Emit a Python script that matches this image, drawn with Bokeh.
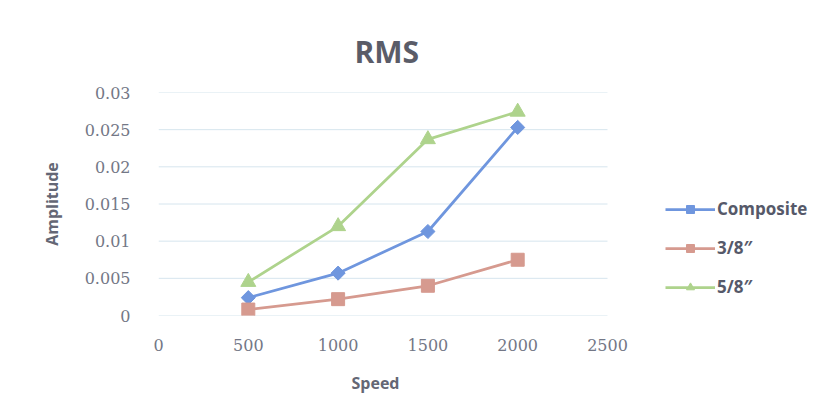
from bokeh.plotting import figure
from bokeh.models import Legend, LegendItem, Title, Range1d, FixedTicker
from bokeh.embed import file_html
from bokeh.resources import INLINE

# RMS amplitude measured at each speed
speed = [500, 1000, 1500, 2000]
composite = [0.0024, 0.0057, 0.0113, 0.0253]
three_eighths = [0.0008, 0.0022, 0.0040, 0.0075]
five_eighths = [0.0045, 0.0120, 0.0237, 0.0274]

x_ticks = [0, 500, 1000, 1500, 2000, 2500]
y_ticks = [0, 0.005, 0.01, 0.015, 0.02, 0.025, 0.03]
y_tick_labels = {0: "0", 0.005: "0.005", 0.01: "0.01", 0.015: "0.015",
                 0.02: "0.02", 0.025: "0.025", 0.03: "0.03"}

BLUE = "#6f96de"
RED = "#d69a8f"
GREEN = "#aed38c"
TICK_TEXT = "#737786"
LABEL_TEXT = "#646775"

# the plotting area runs on to the right edge so the legend can sit in it;
# the axis itself spans 0..2500 over the first 450 px
PLOT_LEFT, AXIS_RIGHT, PLOT_RIGHT = 158, 607, 825
x_end = x_ticks[-1] * (PLOT_RIGHT - PLOT_LEFT) / (AXIS_RIGHT - PLOT_LEFT)

p = figure(width=830, height=412, output_backend="svg", toolbar_location=None,
           x_range=Range1d(0, x_end), y_range=Range1d(0, 0.03),
           min_border_left=PLOT_LEFT, min_border_right=830 - PLOT_RIGHT,
           min_border_top=92, min_border_bottom=97)
p.outline_line_color = None
p.background_fill_color = "white"
p.border_fill_color = "white"

p.add_layout(Title(text="RMS", align="left", offset=196, text_font="Open Sans",
                   text_font_style="bold", text_font_size="30px",
                   text_color="#5a5c68", standoff=42), "above")

# axes
p.xaxis.ticker = FixedTicker(ticks=x_ticks)
p.yaxis.ticker = FixedTicker(ticks=y_ticks)
p.yaxis.major_label_overrides = y_tick_labels
for ax in (p.xaxis[0], p.yaxis[0]):
    ax.axis_line_color = None
    ax.major_tick_line_color = None
    ax.minor_tick_line_color = None
    ax.major_label_text_font = "DejaVu Serif"
    ax.major_label_text_font_size = "16px"
    ax.major_label_text_color = TICK_TEXT
    ax.axis_label_text_font = "Open Sans"
    ax.axis_label_text_font_style = "bold"
    ax.axis_label_text_font_size = "16px"
    ax.axis_label_text_color = LABEL_TEXT
p.yaxis.axis_label = "Amplitude"
p.xaxis.major_label_standoff = 17
p.yaxis.major_label_standoff = 22
p.yaxis.axis_label_standoff = 19

p.add_layout(Title(text="Speed", align="left", offset=193, text_font="Open Sans",
                   text_font_style="bold", text_font_size="16px",
                   text_color=LABEL_TEXT, standoff=32), "below")

# horizontal grid lines, limited to the 0..2500 span of the axis
p.xgrid.grid_line_color = None
p.ygrid.grid_line_color = None
p.segment(x0=[x_ticks[0]] * len(y_ticks), x1=[x_ticks[-1]] * len(y_ticks),
          y0=y_ticks, y1=y_ticks, line_color="#d6e5ee", line_width=1, level="underlay")

# series
r1l = p.line(speed, composite, line_color=BLUE, line_width=2.75)
r1m = p.scatter(speed, composite, marker="square", angle=0.785398, size=10,
                fill_color=BLUE, line_color=BLUE)
r2l = p.line(speed, three_eighths, line_color=RED, line_width=2.75)
r2m = p.scatter(speed, three_eighths, marker="square", size=13, fill_color=RED, line_color=RED)
r3l = p.line(speed, five_eighths, line_color=GREEN, line_width=2.75)
r3m = p.scatter(speed, five_eighths, marker="triangle", size=15, fill_color=GREEN, line_color=GREEN)

legend = Legend(items=[
    LegendItem(label="Composite", renderers=[r1l, r1m]),
    LegendItem(label="3/8\u2033", renderers=[r2l, r2m]),
    LegendItem(label="5/8\u2033", renderers=[r3l, r3m]),
], location=(507, 17), border_line_color=None, background_fill_alpha=0,
   glyph_width=50, glyph_height=20, spacing=16, label_standoff=2,
   label_text_font="Open Sans", label_text_font_style="bold",
   label_text_font_size="17px", label_text_color="#565969", padding=0, margin=0)
p.add_layout(legend, "center")

open("out.html", "w").write(file_html(p, INLINE))
